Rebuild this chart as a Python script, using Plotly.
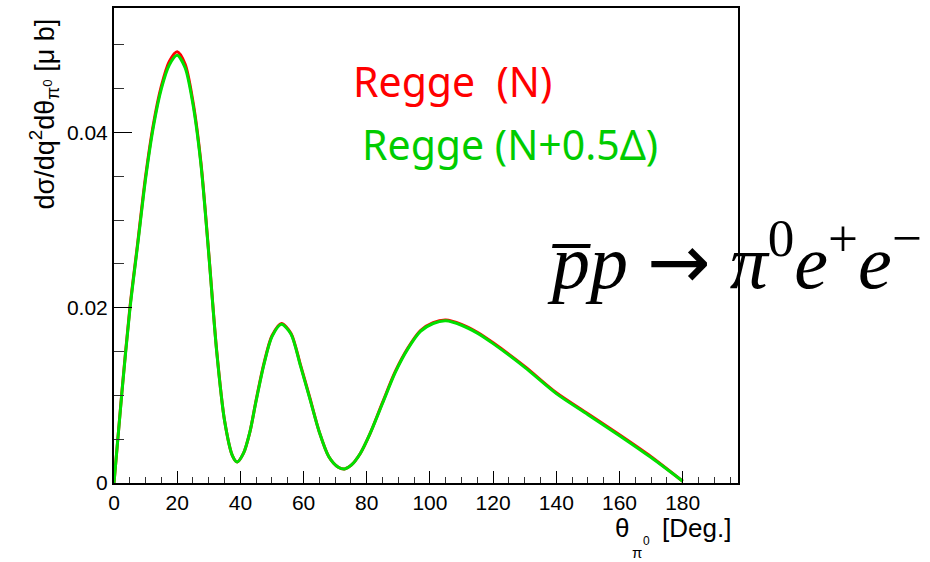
import plotly.graph_objects as go

# ---- data ----
theta_deg = [0, 2.5, 5, 7.5, 10, 12.5, 15, 17.5, 20, 22.5, 25, 27.5, 30, 32.5, 35, 37.5,
             39, 41, 43, 45, 47.5, 50, 53, 56, 59, 62, 65, 68, 71, 73, 75, 78, 81, 85,
             89, 93, 97, 101, 105, 110, 115, 120, 130, 140, 150, 160, 170, 180]
regge_N = [0, 0.0104, 0.0199, 0.0274, 0.0350, 0.0410, 0.0453, 0.0481, 0.0492, 0.0478,
           0.0435, 0.0366, 0.0262, 0.0151, 0.0071, 0.0031, 0.0024, 0.0034, 0.0058,
           0.0095, 0.0137, 0.0168, 0.0182, 0.0171, 0.0135, 0.0097, 0.0058, 0.0030,
           0.0018, 0.0016, 0.0020, 0.0034, 0.0056, 0.0092, 0.0127, 0.0154, 0.0174,
           0.0183, 0.0186, 0.0181, 0.0172, 0.0160, 0.0133, 0.0103, 0.0079, 0.0055,
           0.0030, 0.0002]
regge_N_delta = [0, 0.0103, 0.0197, 0.0272, 0.0347, 0.0407, 0.0450, 0.0477, 0.0488,
                 0.0474, 0.0432, 0.0364, 0.0261, 0.0150, 0.0071, 0.0031, 0.0024, 0.0034,
                 0.0058, 0.0094, 0.0136, 0.0167, 0.0181, 0.0170, 0.0134, 0.0096, 0.0058,
                 0.0030, 0.0018, 0.0016, 0.0020, 0.0034, 0.0056, 0.0091, 0.0126, 0.0153,
                 0.0173, 0.0182, 0.0185, 0.0180, 0.0171, 0.0159, 0.0132, 0.0102, 0.0078,
                 0.0054, 0.0029, 0.0002]
x_tick_vals = [0, 20, 40, 60, 80, 100, 120, 140, 160, 180]
y_tick_vals = [0, 0.02, 0.04]
y_tick_text = ["0", "0.02", "0.04"]
series_names = ["Regge  (N)", "Regge (N+0.5Δ)"]

RED = "#ff0000"
GREEN_LINE = "#00e000"
GREEN_TEXT = "#00cc00"

W, H = 930, 562
L, R, T, B = 114, 738, 6, 483  # plot frame in pixels


def px(x):
    return (x - L) / (R - L)


def py(y):
    return (B - y) / (B - T)


fig = go.Figure()
fig.add_trace(go.Scatter(x=theta_deg, y=regge_N, mode="lines", name=series_names[0],
                         line=dict(color=RED, width=3, shape="spline", smoothing=0.8)))
fig.add_trace(go.Scatter(x=theta_deg, y=regge_N_delta, mode="lines", name=series_names[1],
                         line=dict(color=GREEN_LINE, width=3, shape="spline", smoothing=0.8)))

tickfont = dict(family="Liberation Sans, Arial", size=21, color="black")

fig.update_layout(
    width=W, height=H,
    margin=dict(l=L, r=W - R, t=T, b=H - B, pad=0),
    paper_bgcolor="white", plot_bgcolor="white",
    showlegend=False,
    xaxis=dict(range=[0, 197.5], showgrid=False, zeroline=False,
               showline=True, mirror=True, linecolor="black", linewidth=2,
               ticks="inside", ticklen=12, tickwidth=1.3, tickcolor="black",
               tickvals=x_tick_vals, tickfont=tickfont,
               minor=dict(dtick=5, ticks="inside", ticklen=6, tickwidth=1.2,
                          tickcolor="#333333", showgrid=False)),
    yaxis=dict(range=[0, 0.0542], showgrid=False, zeroline=False,
               showline=True, mirror=True, linecolor="black", linewidth=2,
               ticks="inside", ticklen=18, tickwidth=1.3, tickcolor="black",
               tickvals=y_tick_vals, ticktext=y_tick_text, tickfont=tickfont,
               minor=dict(dtick=0.005, ticks="inside", ticklen=10, tickwidth=1.2,
                          tickcolor="#333333", showgrid=False)),
)


def note(text, x, y, font, **kw):
    d = dict(text=text, x=px(x), y=py(y), xref="paper", yref="paper", showarrow=False,
             xanchor="center", yanchor="middle", font=font)
    d.update(kw)
    return d


ann = []
# legend-like texts
ann.append(note(series_names[0], 452, 79, dict(family="Noto Sans", size=41, color=RED)))
ann.append(note(series_names[1], 510, 143, dict(family="Noto Sans", size=41, color=GREEN_TEXT)))
# reaction formula
ann.append(note("<i>p\u0305p</i> <span style='font-family:DejaVu Sans'>\u2192</span> "
                "<i>\u03c0</i><sup>0</sup><i>e</i><sup>+</sup><i>e</i><sup>\u2212</sup>",
                734, 257, dict(family="Liberation Serif, Times New Roman", size=76, color="black")))
# y axis title (rotated)
ann.append(note("d\u03c3/dq<sup>2</sup>d\u03b8<sub>\u03c0<sup>0</sup></sub> [\u03bc b]",
                44, 113, dict(family="Liberation Sans, Arial", size=27, color="black"),
                textangle=-90))
# x axis title pieces
xt_font = dict(family="Liberation Sans, Arial", size=26, color="black")
ann.append(note("\u03b8", 622, 528, xt_font))
ann.append(note("[Deg.]", 733, 528, xt_font, xanchor="right"))
ann.append(note("0", 646, 541, dict(family="Liberation Sans, Arial", size=12, color="black")))
ann.append(note("\u03c0", 637, 553, dict(family="Liberation Sans, Arial", size=15, color="black")))
fig.update_layout(annotations=ann)

fig.write_html("out.html")
